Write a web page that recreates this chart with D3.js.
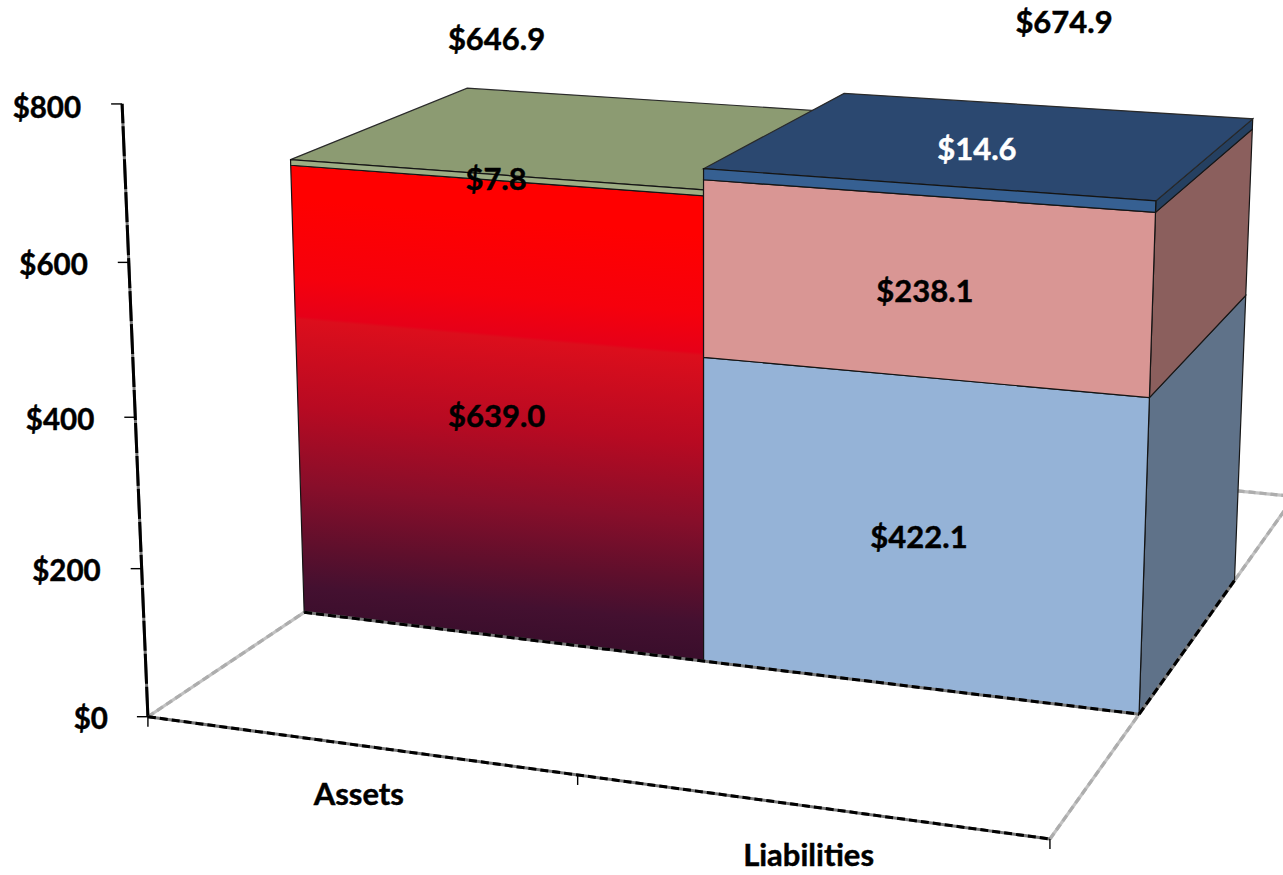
<!DOCTYPE html>
<html><head><meta charset="utf-8">
<script src="https://cdn.jsdelivr.net/npm/d3@7/dist/d3.min.js"></script>
<style>html,body{margin:0;padding:0;background:#fff}svg{display:block}
text{font-family:Lato,"Open Sans",sans-serif;font-weight:700;fill:#000;stroke:#000;stroke-width:.45px}</style>
</head><body><div id="chart"></div>
<script>
// ---- data ----
const categories = ["Assets", "Liabilities"];
const assetValues = [639.0, 7.8];
const liabilityValues = [422.1, 238.1, 14.6];
const totals = [646.9, 674.9];
const tickValues = [0, 200, 400, 600, 800];

// ---- styles ----
const assetColors = [{front:"url(#redFade)", side:"#6d0a16", top:"#8c9b72"}, {front:"#9dae84", side:"#6f7c5a", top:"#8c9b72"}];
const liabilityColors = [{front:"#95b3d7", side:"#5f7289", top:"#95b3d7"}, {front:"#d99694", side:"#8b5f5d", top:"#d99694"}, {front:"#366092", side:"#254061", top:"#2b4870"}];
const redStops = [[0,"#ff0000"],[.09,"#ff0000"],[.26,"#f6000c"],[.345,"#e60018"],[.352,"#dc0e1c"],[.54,"#b80a22"],[.71,"#880e2a"],[.84,"#5f0f2c"],[.93,"#441030"],[1,"#3b0e2c"]];

const W = 1283, H = 875;
const y = d3.scaleLinear().domain([0, 800]).range([0, 1]);
const x = d3.scaleBand().domain(categories).range([0, 1]).padding(0);

// Camera calibration: [u, value, depth, screenX, screenY]; depth 0 = bar front, 1 = bar back, g = floor margin.
const calib = g => [
 [0,0,-g,149,716],[0,200,-g,142,568],[0,400,-g,135.5,416],[0,600,-g,128.5,262.5],[0,800,-g,122,104],
 [.5,0,-g,577,776],[1,0,-g,1050,840],
 [0,0,0,303,613],[.5,0,0,704,662],[1,0,0,1139,713],
 [0,646.9,0,290,160],[0,639,0,290,166],[.5,646.9,0,704,189],[.5,639,0,704,195.5],
 [.5,422.1,0,704,357],[.5,660.2,0,704,180],[.5,674.9,0,704,169],
 [1,422.1,0,1149,398],[1,660.2,0,1155,212],[1,674.9,0,1155,201],
 [1,0,1,1235,579],[1,422.1,1,1246,296],[1,660.2,1,1253,130],[1,674.9,1,1253,118],
 [0,646.9,1,468,88],[.5,674.9,1,843,93],
 [1,0,1+g,1294,497]
];
function fit(rows){
  const n=11, A=Array.from({length:n},()=>new Array(n+1).fill(0));
  const add=(r,b)=>{for(let i=0;i<n;i++){for(let j=0;j<n;j++)A[i][j]+=r[i]*r[j];A[i][n]+=r[i]*b;}};
  rows.forEach(([u,val,w,sx,sy])=>{const v=y(val),X=sx/1000,Y=sy/1000;
    add([u,v,w,1,0,0,0,0,-u*X,-v*X,-w*X],X);
    add([0,0,0,0,u,v,w,1,-u*Y,-v*Y,-w*Y],Y);});
  for(let i=0;i<n;i++){let p=i;for(let k=i+1;k<n;k++)if(Math.abs(A[k][i])>Math.abs(A[p][i]))p=k;
    [A[i],A[p]]=[A[p],A[i]];
    for(let k=0;k<n;k++)if(k!==i){const f=A[k][i]/A[i][i];for(let j=i;j<=n;j++)A[k][j]-=f*A[i][j];}}
  const m=A.map((r,i)=>r[n]/r[i]);
  const P=(u,v,w)=>{const d=m[8]*u+m[9]*v+m[10]*w+1;
    return [1000*(m[0]*u+m[1]*v+m[2]*w+m[3])/d,1000*(m[4]*u+m[5]*v+m[6]*w+m[7])/d];};
  let err=0;rows.forEach(([u,val,w,sx,sy])=>{const p=P(u,y(val),w);err+=(p[0]-sx)**2+(p[1]-sy)**2;});
  return {P,err};
}
let best=null,gap=0;
for(const g of d3.range(.05,2,.01)){const f=fit(calib(g));if(!best||f.err<best.err){best=f;gap=g;}}
const project=(u,value,w)=>best.P(u,y(value),w);

const svg=d3.select("#chart").append("svg").attr("width",W).attr("height",H);
const path=d3.line();
const top0=project(.25,646.9,0),bot0=project(.25,0,0);
const tilt=.09,k=(bot0[1]-top0[1])/(1+tilt*tilt);
const grad=svg.append("defs").append("linearGradient").attr("id","redFade").attr("gradientUnits","userSpaceOnUse")
 .attr("x1",top0[0]).attr("y1",top0[1]).attr("x2",top0[0]-tilt*k).attr("y2",top0[1]+k);
grad.selectAll("stop").data(redStops).join("stop").attr("offset",d=>d[0]).attr("stop-color",d=>d[1]);

// floor outline (grey)
const floorLines=[[[0,0,-gap],[0,0,0]],[[1,0,-gap],[1,0,1+gap+.4]],[[1.3,0,1+gap],[0,0,1+gap]]];
const floor=svg.append("g").attr("fill","none").attr("stroke-width",3.2);
floorLines.forEach(l=>{
 const d=path(l.map(p=>project(...p)));
 floor.append("path").attr("d",d).attr("stroke","#c2c2c2");
 floor.append("path").attr("d",d).attr("stroke","#adadad").attr("stroke-dasharray","7 4");
});

// bars
function drawBar(cat,values,colors,withSide){
 const u0=x(cat),u1=u0+x.bandwidth();
 const g=svg.append("g");
 let base=0;
 const segs=values.map((val,i)=>{const s={a:base,b:base+val,c:colors[i]};base+=val;return s;});
 const poly=pts=>path(pts.map(p=>project(...p)))+"Z";
 segs.forEach(s=>{
  if(withSide) g.append("path").attr("d",poly([[u1,s.a,0],[u1,s.a,1],[u1,s.b,1],[u1,s.b,0]])).attr("fill",s.c.side).attr("stroke","#161616").attr("stroke-width",1.2);
 });
 const last=segs[segs.length-1];
 g.append("path").attr("d",poly([[u0,last.b,0],[u1,last.b,0],[u1,last.b,1],[u0,last.b,1]])).attr("fill",last.c.top).attr("stroke","#2a2a2a").attr("stroke-width",1.2);
 segs.forEach(s=>{
  g.append("path").attr("d",poly([[u0,s.a,0],[u1,s.a,0],[u1,s.b,0],[u0,s.b,0]])).attr("fill",s.c.front).attr("stroke","#141414").attr("stroke-width",1.2);
 });
}
drawBar(categories[0],assetValues,assetColors,false);
drawBar(categories[1],liabilityValues,liabilityColors,true);

// black rough axis-style edges
const blackLines=[
 {pts:[[0,0,-gap],[0,800,-gap]],dash:"30 3"},
 {pts:[[0,0,-gap],[1,0,-gap]],dash:"8 4"},
 {pts:[[0,0,0],[1,0,0]],dash:"8 4"},
 {pts:[[1,0,0],[1,0,1]],dash:"8 4"}
];
const axes=svg.append("g");
blackLines.forEach(l=>{
 const d=path(l.pts.map(p=>project(...p)));
 axes.append("path").attr("d",d).attr("fill","none").attr("stroke","#777").attr("stroke-width",3);
 axes.append("path").attr("d",d).attr("fill","none").attr("stroke","#000").attr("stroke-width",3).attr("stroke-dasharray",l.dash);
});

// value axis ticks + labels
const ticks=svg.append("g");
tickValues.forEach(t=>{
 const [px,py]=project(0,t,-gap);
 ticks.append("line").attr("x1",px-11).attr("x2",px).attr("y1",py).attr("y2",py).attr("stroke","#000").attr("stroke-width",1.4);
 ticks.append("text").attr("x",px-(t===0?40:41)).attr("y",py+(t===800?3:1)).attr("text-anchor","end").attr("dominant-baseline","central").attr("font-size",29.5).text("$"+t);
});
// category ticks + labels
[0,.5,1].forEach(u=>{
 const [px,py]=project(u,0,-gap);
 ticks.append("line").attr("x1",px).attr("x2",px).attr("y1",py).attr("y2",py+10).attr("stroke","#000").attr("stroke-width",1.4);
});
const catOffset=[[1,48],[0.5,48]];
categories.forEach((c,i)=>{
 const [px,py]=project(x(c)+x.bandwidth()/2,0,-gap);
 ticks.append("text").attr("x",px+catOffset[i][0]).attr("y",py+catOffset[i][1]).attr("text-anchor","middle").attr("dominant-baseline","central").attr("font-size",31).text(c);
});

// data labels
const fmt=v=>"$"+v.toFixed(1);
const labels=[
 {u:.25,base:0,val:assetValues[0],dx:0.5,dy:3},
 {u:.25,base:assetValues[0],val:assetValues[1],dx:3.5,dy:1},
 {u:.25,base:0,val:2*totals[0],text:totals[0],dx:4,dy:-136},
 {u:.75,base:0,val:liabilityValues[0],dx:0,dy:2},
 {u:.75,base:liabilityValues[0],val:liabilityValues[1],dx:2,dy:3},
 {u:.75,base:liabilityValues[0]+liabilityValues[1],val:liabilityValues[2],dx:52.5,dy:-42,white:true},
 {u:.75,base:0,val:2*totals[1],text:totals[1],dx:139.5,dy:-163}
];
svg.append("g").selectAll("text").data(labels).join("text")
 .each(function(d){const [px,py]=project(d.u,d.base+d.val/2,0);
   d3.select(this).attr("x",px+d.dx).attr("y",py+d.dy);})
 .attr("text-anchor","middle").attr("dominant-baseline","central").attr("font-size",31)
 .style("fill",d=>d.white?"#fff":"#000").style("stroke",d=>d.white?"#fff":"#000").text(d=>fmt(d.text!==undefined?d.text:d.val));
</script></body></html>
